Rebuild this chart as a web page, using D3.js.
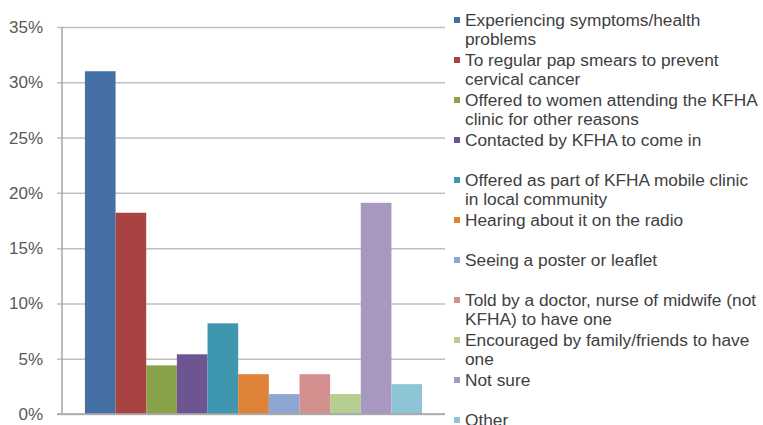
<!DOCTYPE html>
<html><head><meta charset="utf-8">
<script src="https://cdn.jsdelivr.net/npm/d3@7"></script>
<style>body{margin:0;background:#fff}svg{display:block}</style>
</head><body>
<svg id="c" width="763" height="425"></svg>
<script>
const groups = ["All respondents"];
const seriesNames = [
  "Experiencing symptoms/health problems",
  "To regular pap smears to prevent cervical cancer",
  "Offered to women attending the KFHA clinic for other reasons",
  "Contacted by KFHA to come in",
  "Offered as part of KFHA mobile clinic in local community",
  "Hearing about it on the radio",
  "Seeing a poster or leaflet",
  "Told by a doctor, nurse of midwife (not KFHA) to have one",
  "Encouraged by family/friends to have one",
  "Not sure",
  "Other"
];
const legendLines = [
  ["Experiencing symptoms/health", "problems"],
  ["To regular pap smears to prevent", "cervical cancer"],
  ["Offered to women attending the KFHA", "clinic for other reasons"],
  ["Contacted by KFHA to come in"],
  ["Offered as part of KFHA mobile clinic", "in local community"],
  ["Hearing about it on the radio"],
  ["Seeing a poster or leaflet"],
  ["Told by a doctor, nurse of midwife (not", "KFHA) to have one"],
  ["Encouraged by family/friends to have", "one"],
  ["Not sure"],
  ["Other"]
];
const values = [31.0, 18.2, 4.4, 5.4, 8.2, 3.6, 1.8, 3.6, 1.8, 19.1, 2.7];
const colors = ["#4470A6","#A94341","#88A24A","#6E5490","#3E97AF","#DD8236","#8DA6D2","#D48F8F","#B5CD91","#A898C0","#8DC4D6"];
const yTicks = [0,5,10,15,20,25,30,35];

(function(){
const svg = d3.select("#c");
const mL = 62, mR = 445, mT = 27, mB = 414;

const y = d3.scaleLinear().domain([0,35]).range([mB, mT]);
const x0 = d3.scaleBand().domain(groups).range([mL, mR]).paddingInner(0).paddingOuter(0.068);
const x1 = d3.scaleBand().domain(seriesNames).range([0, x0.bandwidth()]);
const color = d3.scaleOrdinal().domain(seriesNames).range(colors);

const yAxis = d3.axisLeft(y).tickValues(yTicks).tickFormat(d => d + "%").tickSize(-(mR-mL)).tickPadding(19);
const gy = svg.append("g").attr("transform", `translate(${mL},0)`).call(yAxis);
gy.select(".domain").remove();
gy.selectAll(".tick line").attr("stroke", "#BFBFBF").attr("stroke-width", 1.5).attr("x1", -5);
gy.selectAll(".tick text").attr("fill", "#595959").style("font-family", "Liberation Sans, Arial, sans-serif").style("font-size", "17px");

svg.append("g").selectAll("g").data(groups).join("g")
  .attr("transform", d => `translate(${x0(d)},0)`)
  .selectAll("rect").data(() => seriesNames.map((s,i) => ({s, v: values[i]}))).join("rect")
  .attr("x", d => x1(d.s)).attr("width", x1.bandwidth())
  .attr("y", d => y(d.v)).attr("height", d => y(0) - y(d.v))
  .attr("fill", d => color(d.s));

svg.append("line").attr("x1", mL).attr("x2", mL).attr("y1", mT).attr("y2", mB).attr("stroke", "#A6A6A6").attr("stroke-width", 1.5);
svg.append("line").attr("x1", mL-5).attr("x2", mR).attr("y1", mB).attr("y2", mB).attr("stroke", "#A6A6A6").attr("stroke-width", 1.5);

const lg = svg.append("g").style("font-family", "Liberation Sans, Arial, sans-serif").style("font-size", "17.3px");
legendLines.forEach((lines, i) => {
  const cy = 20 + 40 * i;
  lg.append("rect").attr("x", 454).attr("y", cy - 3).attr("width", 6).attr("height", 6).attr("fill", colors[i]);
  lines.forEach((t, j) => {
    lg.append("text").attr("x", 465).attr("y", cy + j * 18.5).attr("dy", "0.35em").attr("fill", "#404040").text(t);
  });
});
})();
</script>
</body></html>
